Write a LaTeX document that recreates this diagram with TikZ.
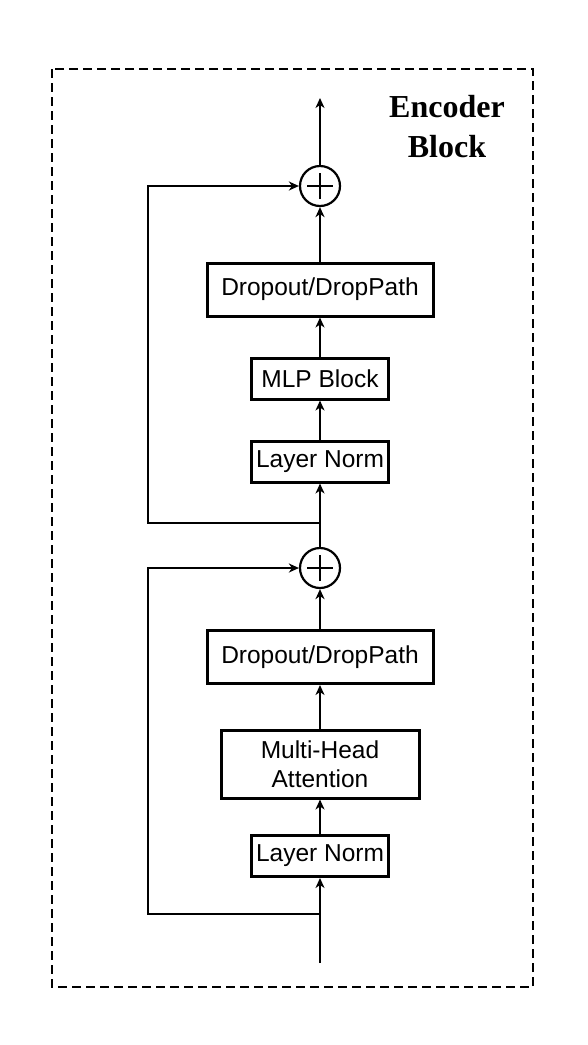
\documentclass[tikz,border=0pt]{standalone}
\usepackage{fontspec}
\setmainfont{Liberation Sans}
\newfontfamily\serifbold{Liberation Serif}
\usetikzlibrary{arrows.meta}

\begin{document}
\begin{tikzpicture}[x=1pt, y=-1pt, line width=1.8pt,
  >={Stealth[length=10pt,width=9pt,inset=3pt]},
  blk/.style={draw, line width=3pt, inner sep=0pt, align=center,
    font=\fontsize{24.5}{29}\selectfont},
  addnode/.style={draw, circle, line width=2.2pt, minimum size=40pt, inner sep=0pt,
    path picture={
      \draw[line width=2.2pt] ([xshift=-13pt]path picture bounding box.center) -- ([xshift=13pt]path picture bounding box.center);
      \draw[line width=2.2pt] ([yshift=-13pt]path picture bounding box.center) -- ([yshift=13pt]path picture bounding box.center);
    }}]
  \useasboundingbox (0,0) rectangle (588,1045);

  % Outer frame and title
  \draw[line width=2.4pt, dash pattern=on 9pt off 5pt] (52,69) rectangle (533,987);
  \node[font=\serifbold\bfseries\fontsize{32}{40}\selectfont, align=center] (title) at (447,127) {Encoder\\Block};

  % Coordinates
  \coordinate (in) at (320,963);
  \coordinate (out) at (320,98);
  \coordinate (split1) at (320,914);
  \coordinate (corner1) at (148,914);
  \coordinate (split2) at (320,523);
  \coordinate (corner2) at (148,523);

  % Upper half
  \node[addnode] (add2) at (320,186) {};
  \node[blk, minimum width=226pt, minimum height=53pt] (drop2) at (320,289.5) {Dropout/DropPath};
  \node[blk, minimum width=137pt, minimum height=41pt] (mlp) at (320,378.5) {MLP Block};
  \node[blk, minimum width=137pt, minimum height=41pt] (norm2) at (320,461.5) {Layer Norm};

  % Lower half
  \node[addnode] (add1) at (320,568) {};
  \node[blk, minimum width=226pt, minimum height=53pt] (drop1) at (320,657) {Dropout/DropPath};
  \node[blk, minimum width=198pt, minimum height=68pt] (attn) at (320,764) {Multi-Head\\Attention};
  \node[blk, minimum width=137pt, minimum height=41pt] (norm1) at (320,856) {Layer Norm};

  % Main path
  \draw[->] (in) -- (norm1);
  \draw[->] (norm1) -- (attn);
  \draw[->] (attn) -- (drop1);
  \draw[->] (drop1) -- (add1);
  \draw[->] (add1) -- (norm2);
  \draw[->] (norm2) -- (mlp);
  \draw[->] (mlp) -- (drop2);
  \draw[->] (drop2) -- (add2);
  \draw[->] (add2) -- (out);

  % Skip connections
  \draw[->] (split1) -- (corner1) |- (add1);
  \draw[->] (split2) -- (corner2) |- (add2);
\end{tikzpicture}
\end{document}
